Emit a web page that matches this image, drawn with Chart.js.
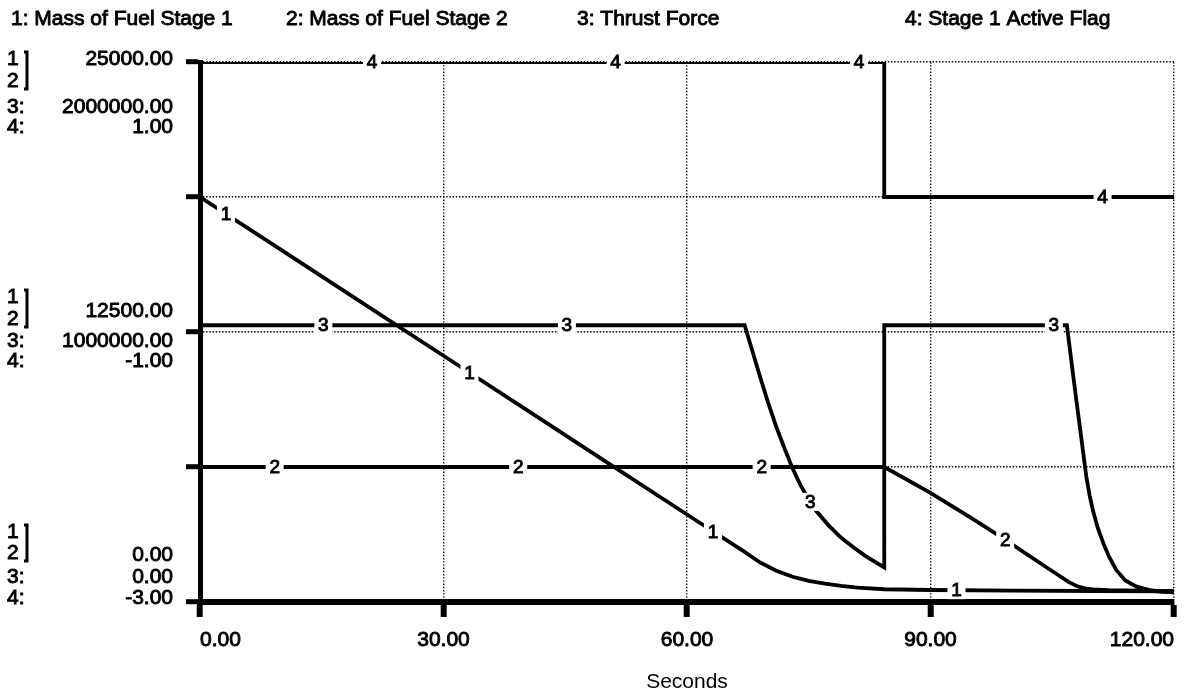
<!DOCTYPE html>
<html>
<head>
<meta charset="utf-8">
<title>Two-stage rocket run</title>
<script src="https://cdn.jsdelivr.net/npm/chart.js@4.4.1/dist/chart.umd.min.js"></script>
<style>
  html, body { margin: 0; padding: 0; background: #fff; }
  #wrap { position: relative; width: 1187px; height: 695px; }
</style>
</head>
<body>
<div id="wrap"><canvas id="chart" width="1187" height="695"></canvas></div>
<script>
/* ============================================================
   Rocket staging run — STELLA style time plot
   ============================================================ */

/* ---- Data ---- */

const seriesNames = ['Mass of Fuel Stage 1', 'Mass of Fuel Stage 2', 'Thrust Force', 'Stage 1 Active Flag'];

const timeTicks = [0, 30, 60, 90, 120];
const fuelGrid = [0, 6250, 12500, 18750, 25000];
const fuelTicks = [0, 12500, 25000];
const thrustTicks = [0, 1000000, 2000000];
const flagTicks = [-3, -1, 1];

const fuel1Time = [0, 10, 20, 30, 40, 50, 60, 67, 69, 71, 73, 75, 77, 79, 81, 84.3, 90, 100, 110, 120];
const fuel1Mass = [18750, 16300, 13850, 11400, 8950, 6500, 4050, 2340, 1830, 1450, 1170, 980, 850, 750, 670, 590, 555, 530, 510, 490];

const fuel2Time = [0, 84.3, 90, 95, 98, 100, 104, 106, 107, 108, 109, 110, 112, 120];
const fuel2Mass = [6250, 6250, 5050, 3900, 3180, 2680, 1680, 1180, 930, 740, 630, 580, 550, 500];

const thrustTime = [0, 67.1, 68, 69, 70, 71, 72, 73, 74, 75, 76, 77.5, 79, 80.5, 82, 84.3,
  84.3, 106.8, 107.2, 107.6, 108, 108.4, 108.8, 109.2, 109.6, 110, 110.6, 111.3, 112, 112.9, 114, 115.4, 117, 118.5, 120];
const thrustForce = [1025000, 1025000, 935000, 834000, 738000, 649000, 570000, 495000, 432000, 380000, 334000, 282000, 238000, 203000, 170000, 128000,
  1025000, 1025000, 930000, 834000, 740000, 649000, 556000, 464000, 395000, 341000, 275000, 217000, 168000, 118000, 80000, 57000, 44000, 38000, 36000];

const flagTime = [0, 84.3, 84.3, 120];
const flagValue = [1, 1, 0, 0];

/* ---- Helpers ---- */

const FONT = '"Liberation Sans", Arial, Helvetica, sans-serif';
Chart.defaults.color = '#000';
Chart.defaults.font.family = FONT;

function toPoints(xs, ys) {
  return xs.map((x, i) => ({ x, y: ys[i] }));
}

// Printed look: fill plus a hairline stroke
function inkText(ctx, text, x, y, size, align) {
  ctx.save();
  ctx.font = `${size}px ${FONT}`;
  ctx.textAlign = align || 'left';
  ctx.textBaseline = 'middle';
  ctx.fillStyle = '#000';
  ctx.strokeStyle = '#000';
  ctx.lineWidth = 0.9;
  ctx.fillText(text, x, y);
  ctx.strokeText(text, x, y);
  ctx.restore();
}

function valueAt(points, t) {
  for (let k = 1; k < points.length; k++) {
    const a = points[k - 1], b = points[k];
    if (b.x > a.x && t >= a.x && t <= b.x) {
      return a.y + (b.y - a.y) * (t - a.x) / (b.x - a.x);
    }
  }
  return points[points.length - 1].y;
}

function bracket(ctx, x, y1, y2) {
  ctx.save();
  ctx.strokeStyle = '#000';
  ctx.lineWidth = 3;
  ctx.beginPath();
  ctx.moveTo(x - 3, y1);
  ctx.lineTo(x, y1);
  ctx.lineTo(x, y2);
  ctx.lineTo(x - 3, y2);
  ctx.stroke();
  ctx.restore();
}

/* ---- Plugins ---- */

const headerPlugin = {
  id: 'header',
  afterDraw(chart) {
    const slots = [11, 286, 577, 905];
    seriesNames.forEach((name, i) => inkText(chart.ctx, `${i + 1}: ${name}`, slots[i], 19, 21));
  },
};

// Stacked scale key on the left: one group per labelled tick
const scaleKeyPlugin = {
  id: 'scaleKey',
  afterDraw(chart) {
    const ctx = chart.ctx;
    const y = chart.scales.yFuel;
    const rows = [
      { one: -70, two: -49, fuel: -47, thrust: -25, flag: -4 },
      { one: -35, two: -13, fuel: -21, thrust: 9, flag: 29 },
      { one: -3, two: 19, fuel: -3, thrust: 45, flag: 65 },
    ];
    fuelTicks.forEach((v, g) => {
      const base = y.getPixelForValue(v);
      const r = rows[g];
      inkText(ctx, '1', 7, base + r.one, 21);
      inkText(ctx, '2', 7, base + r.two, 21);
      bracket(ctx, 27, base + r.one - 7, base + r.two + 8);
      inkText(ctx, '3:', 7, base + r.thrust, 21);
      inkText(ctx, '4:', 7, base + r.flag, 21);
      inkText(ctx, fuelTicks[g].toFixed(2), 173, base + r.fuel, 21, 'right');
      inkText(ctx, thrustTicks[g].toFixed(2), 173, base + r.thrust, 21, 'right');
      inkText(ctx, flagTicks[g].toFixed(2), 173, base + r.flag, 21, 'right');
    });
  },
};

// Series numbers sitting in gaps along each line
const lineMarkPlugin = {
  id: 'lineMarks',
  afterDatasetsDraw(chart) {
    const ctx = chart.ctx;
    const xs = chart.scales.x;
    chart.data.datasets.forEach((ds, i) => {
      const ys = chart.scales[ds.yAxisID];
      for (let t = 3.2 + 6 * i; t < 120; t += 30) {
        const px = xs.getPixelForValue(t);
        const py = ys.getPixelForValue(valueAt(ds.data, t));
        ctx.fillStyle = '#fff';
        ctx.fillRect(px - 9, py - 9, 18, 18);
        inkText(ctx, String(i + 1), px, py + 1, 19, 'center');
      }
    });
  },
};

/* ---- Chart ---- */

const lineStyle = {
  borderColor: '#000',
  borderWidth: 3.8,
  pointRadius: 0,
  tension: 0,
  fill: false,
};

const dottedGrid = {
  color: '#000',
  lineWidth: 1.4,
  tickColor: '#000',
};

new Chart(document.getElementById('chart'), {
  type: 'line',
  data: {
    datasets: [
      { label: seriesNames[0], data: toPoints(fuel1Time, fuel1Mass), yAxisID: 'yFuel', ...lineStyle },
      { label: seriesNames[1], data: toPoints(fuel2Time, fuel2Mass), yAxisID: 'yFuel', ...lineStyle },
      { label: seriesNames[2], data: toPoints(thrustTime, thrustForce), yAxisID: 'yThrust', ...lineStyle },
      { label: seriesNames[3], data: toPoints(flagTime, flagValue), yAxisID: 'yFlag', ...lineStyle },
    ],
  },
  options: {
    responsive: false,
    animation: false,
    events: [],
    layout: { padding: { left: 186, right: 13, top: 62, bottom: 0 } },
    plugins: {
      legend: { display: false },
      tooltip: { enabled: false },
    },
    scales: {
      x: {
        type: 'linear',
        min: 0,
        max: 120,
        afterBuildTicks: (scale) => { scale.ticks = timeTicks.map(v => ({ value: v })); },
        ticks: {
          align: 'inner',
          maxRotation: 0,
          autoSkip: false,
          padding: 11,
          font: { size: 21 },
          textStrokeColor: '#000',
          textStrokeWidth: 0.9,
          callback: (v) => Number(v).toFixed(2),
        },
        grid: { ...dottedGrid, tickLength: 15, tickWidth: 6 },
        border: { display: true, color: '#000', width: 6, dash: [1.4, 1.8] },
        title: {
          display: true,
          text: 'Seconds',
          font: { size: 21 },
          padding: { top: 0, bottom: 0 },
        },
        afterFit: (scale) => {
          scale.height = 93;
          scale.paddingLeft = 0;
          scale.paddingRight = 0;
        },
      },
      yFuel: {
        type: 'linear',
        position: 'left',
        min: 0,
        max: 25000,
        afterBuildTicks: (scale) => { scale.ticks = fuelGrid.map(v => ({ value: v })); },
        ticks: { display: false },
        grid: { ...dottedGrid, tickLength: 14, tickWidth: 5 },
        border: { display: true, color: '#000', width: 5, dash: [1.4, 1.8] },
      },
      yThrust: { type: 'linear', display: false, min: thrustTicks[0], max: thrustTicks[2] },
      yFlag: { type: 'linear', display: false, min: flagTicks[0], max: flagTicks[2] },
    },
  },
  plugins: [headerPlugin, scaleKeyPlugin, lineMarkPlugin],
});
</script>
</body>
</html>
